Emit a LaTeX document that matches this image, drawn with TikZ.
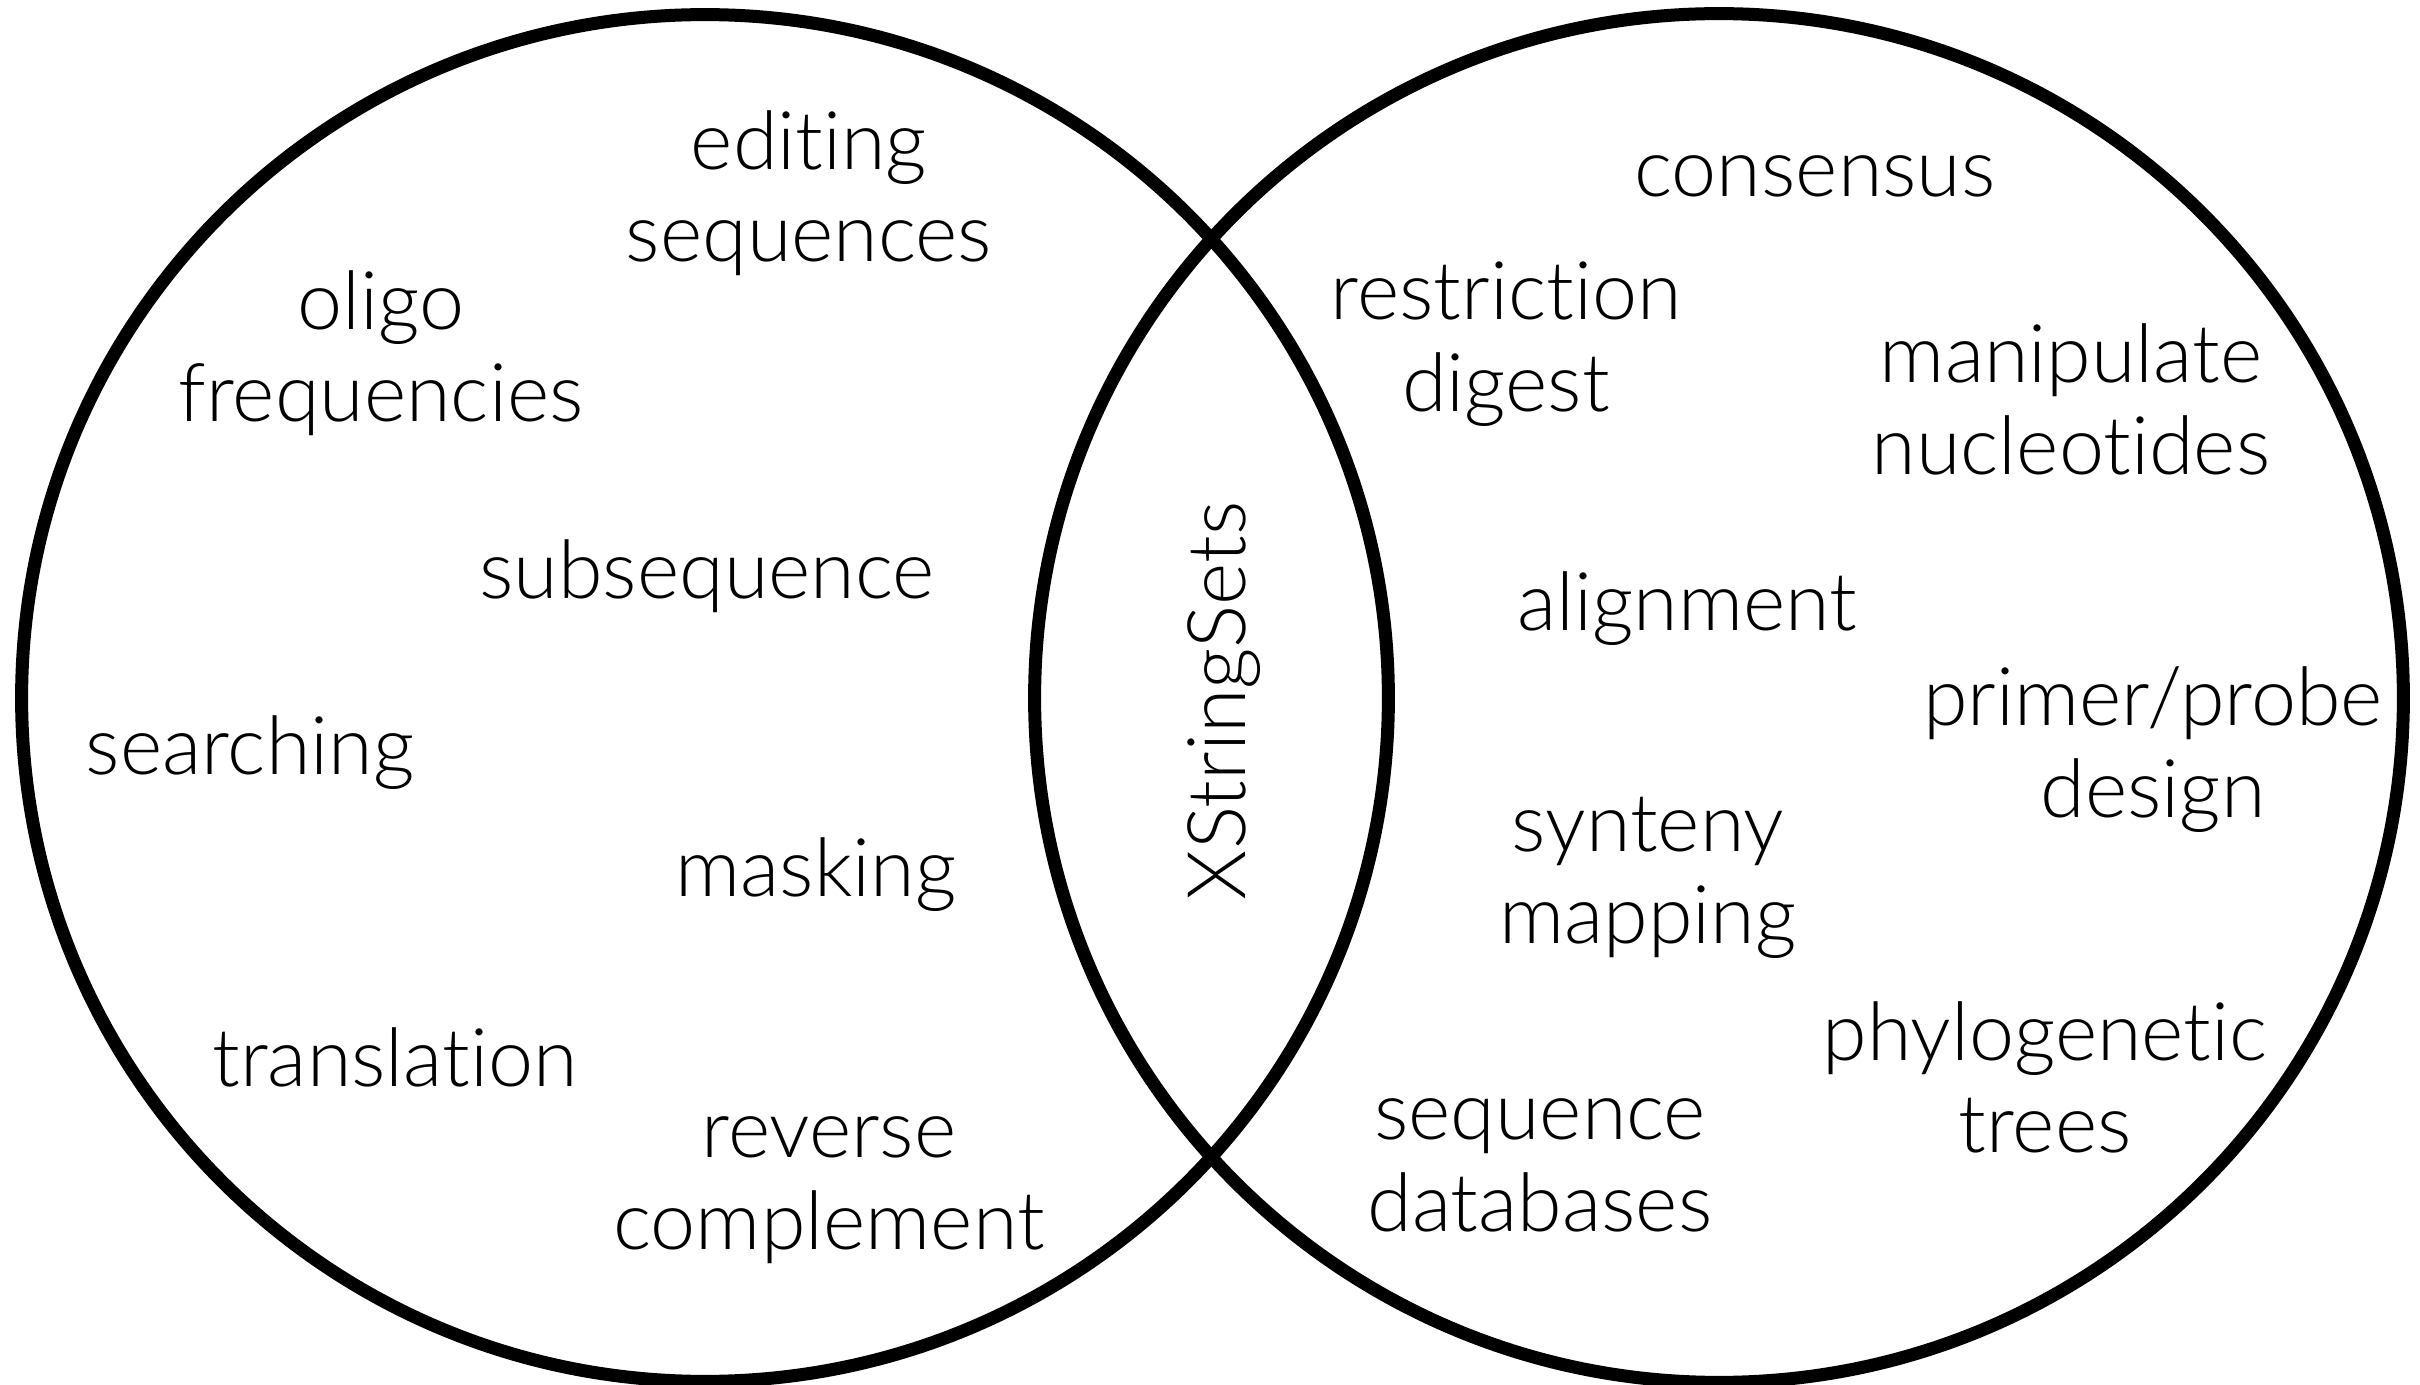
\documentclass[tikz,border=0pt]{standalone}
\usepackage{fontspec}
\setmainfont{Lato}[UprightFont=*-Light,Ligatures=NoCommon]
\begin{document}
\begin{tikzpicture}[x=0.01cm,y=-0.01cm,
  ring/.style={line width=0.13cm},
  lbl/.style={align=center,font=\fontsize{23pt}{26.2pt}\selectfont,inner sep=0pt}]
\useasboundingbox (0,0) rectangle (2420,1385);
\draw[ring] (705,698) circle[radius=6.83cm];
\draw[ring] (1719,698) circle[radius=6.84cm];
\node[lbl] (edit) at (809,193) {editing\\sequences};
\node[lbl] (oligo) at (381,353) {oligo\\frequencies};
\node[lbl] (subseq) at (707,576) {subsequence};
\node[lbl] (search) at (250,753) {searching};
\node[lbl] (mask) at (816,875) {masking};
\node[lbl] (transl) at (395,1057) {translation};
\node[lbl] (revc) at (829,1190) {reverse\\complement};
\node[lbl,rotate=90] (xss) at (1224,701) {XStringSets};
\node[lbl] (cons) at (1815,176) {consensus};
\node[lbl] (restr) at (1506,344) {restriction\\digest};
\node[lbl] (manip) at (2071,399) {manipulate\\nucleotides};
\node[lbl] (align) at (1687,609) {alignment};
\node[lbl] (primer) at (2153,750) {primer/probe\\design};
\node[lbl] (synt) at (1648,878) {synteny\\mapping};
\node[lbl] (phylo) at (2045,1077) {phylogenetic\\trees};
\node[lbl] (seqdb) at (1540,1165) {sequence\\databases};
\end{tikzpicture}
\end{document}
